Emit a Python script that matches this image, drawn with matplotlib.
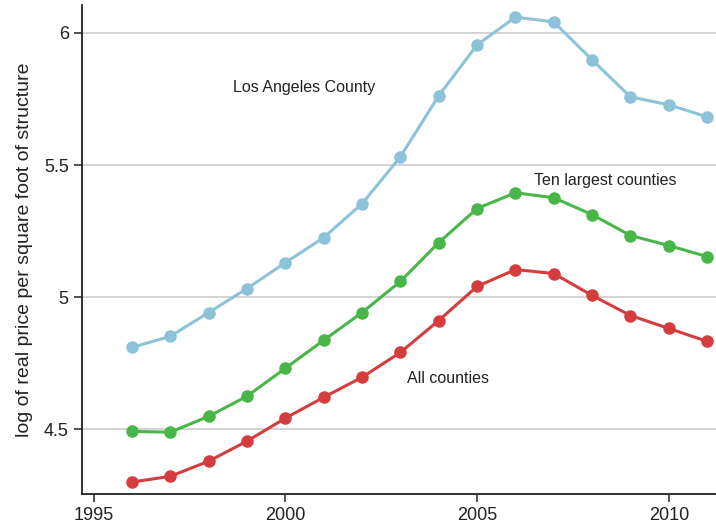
import matplotlib
matplotlib.use("Agg")
import matplotlib.pyplot as plt

plt.rcParams["font.family"] = ["Liberation Sans", "DejaVu Sans"]

# ---- data ----
years = list(range(1996, 2012))
la_county = [4.809, 4.851, 4.941, 5.032, 5.130, 5.225, 5.353, 5.531,
             5.762, 5.955, 6.060, 6.042, 5.898, 5.758, 5.728, 5.682]
ten_largest = [4.491, 4.488, 4.548, 4.624, 4.730, 4.836, 4.941, 5.059,
               5.206, 5.335, 5.395, 5.376, 5.312, 5.233, 5.195, 5.153]
all_counties = [4.299, 4.321, 4.378, 4.454, 4.541, 4.620, 4.696, 4.790,
                4.911, 5.040, 5.104, 5.089, 5.006, 4.930, 4.881, 4.832]
x_ticks = [1995, 2000, 2005, 2010]
y_ticks = [4.5, 5, 5.5, 6]
y_tick_labels = ["4.5", "5", "5.5", "6"]

fig = plt.figure(figsize=(7.16, 5.27), dpi=100)
ax = fig.add_axes([82 / 716, 33 / 527, (716 - 82) / 716, (494 - 5) / 527])

for ys, col in [(la_county, "#8cc3d8"), (ten_largest, "#48b648"),
                (all_counties, "#d43d3d")]:
    ax.plot(years, ys, color=col, linewidth=2.2, marker="o",
            markersize=8, zorder=3)

ax.text(2000.5, 5.795, "Los Angeles County", fontsize=11.5, ha="center",
        va="center", color="#222222")
ax.text(2008.35, 5.44, "Ten largest counties", fontsize=11.5, ha="center",
        va="center", color="#222222")
ax.text(2004.25, 4.693, "All counties", fontsize=11.5, ha="center",
        va="center", color="#222222")

ax.set_xlim(1994.7, 2011.23)
ax.set_ylim(4.254, 6.106)
ax.set_xticks(x_ticks)
ax.set_yticks(y_ticks)
ax.set_yticklabels(y_tick_labels)
ax.grid(axis="y", color="#cccccc", linewidth=1.2, zorder=0)
ax.set_axisbelow(True)
for s in ["top", "right"]:
    ax.spines[s].set_visible(False)
for s in ["left", "bottom"]:
    ax.spines[s].set_linewidth(1.3)
    ax.spines[s].set_color("#222222")
ax.tick_params(labelsize=13, length=6, width=1.1, colors="#222222")
ax.set_ylabel("log of real price per square foot of structure", fontsize=14,
              color="#222222", labelpad=8)

fig.savefig("out.png", dpi=100)
